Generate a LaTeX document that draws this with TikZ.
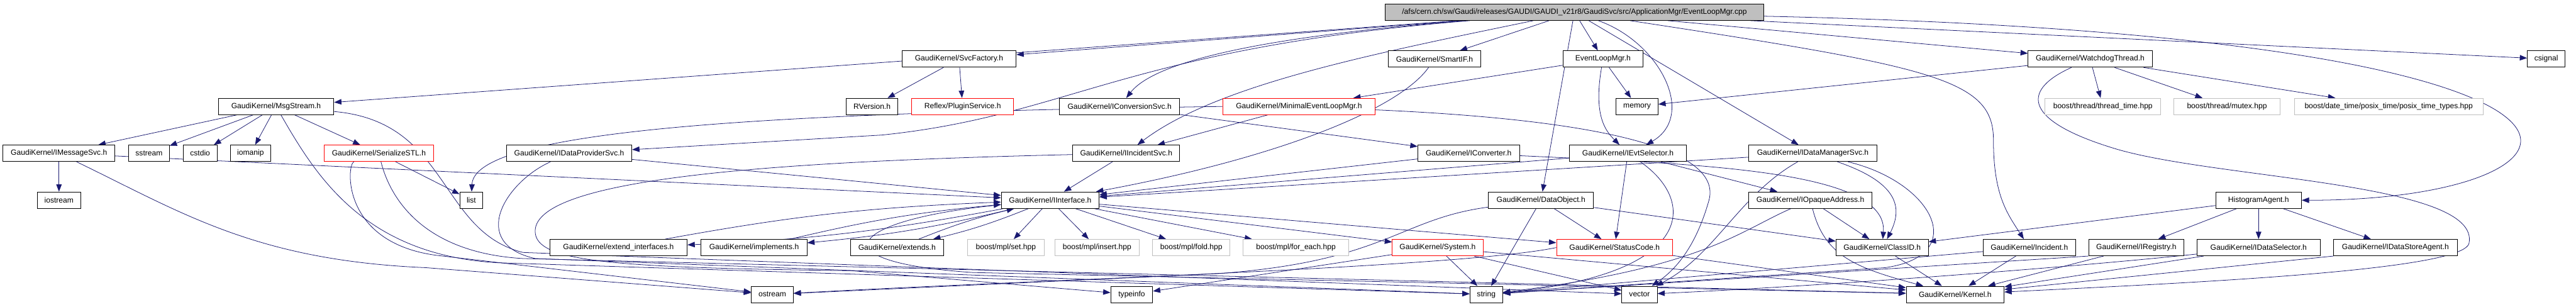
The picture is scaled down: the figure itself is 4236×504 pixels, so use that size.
\documentclass[tikz,border=0pt]{standalone}
\usepackage{fontspec}
\setmainfont{Liberation Sans}
\usetikzlibrary{arrows.meta,backgrounds}
\definecolor{depblue}{HTML}{191970}
\definecolor{sysgray}{HTML}{BFBFBF}

\begin{document}
\begin{tikzpicture}[x=1pt, y=-1pt, >={Triangle[length=12pt,width=9pt]},
  file/.style={draw=black, fill=white, line width=0.9pt, minimum height=27pt, minimum width=#1,
    inner xsep=3pt, inner ysep=0pt, font=\fontsize{12.5}{14}\selectfont},
  file/.default=40,
  redfile/.style={file=#1, draw=red},
  sysfile/.style={file=#1, draw=sysgray},
  mainfile/.style={file=#1, fill=sysgray},
  dep/.style={->, draw=depblue, line width=0.8pt}]
\useasboundingbox (0,0) rectangle (4236,504);

\node[mainfile=623] (root) at (2589,20) {/afs/cern.ch/sw/Gaudi/releases/GAUDI/GAUDI\_v21r8/GaudiSvc/src/ApplicationMgr/EventLoopMgr.cpp};

\node[file=188] (svcfactory) at (1577,97) {GaudiKernel/SvcFactory.h};
\node[file=152] (smartif) at (2359,97) {GaudiKernel/SmartIF.h};
\node[file=132] (evtloopmgr) at (2636,97) {EventLoopMgr.h};
\node[file=204] (watchdog) at (3437,97) {GaudiKernel/WatchdogThread.h};
\node[file=62] (csignal) at (4187,97) {csignal};

\node[file=190] (msgstream) at (454,175) {GaudiKernel/MsgStream.h};
\node[file=85] (rversion) at (1434,175) {RVersion.h};
\node[redfile=168] (pluginsvc) at (1583,175) {Reflex/PluginService.h};
\node[file=197] (iconvsvc) at (1841,175) {GaudiKernel/IConversionSvc.h};
\node[redfile=251] (minimal) at (2136,175) {GaudiKernel/MinimalEventLoopMgr.h};
\node[file=69] (memory) at (2692,175) {memory};
\node[sysfile=190] (threadtime) at (3458,175) {boost/thread/thread\_time.hpp};
\node[sysfile=175] (mutex) at (3662,175) {boost/thread/mutex.hpp};
\node[sysfile=310] (posixtime) at (3928,175) {boost/date\_time/posix\_time/posix\_time\_types.hpp};

\node[file=184] (imsgsvc) at (97,252) {GaudiKernel/IMessageSvc.h};
\node[file=67] (sstream) at (245,252) {sstream};
\node[file=56] (cstdio) at (329,252) {cstdio};
\node[file=66] (iomanip) at (412,252) {iomanip};
\node[redfile=180] (serialize) at (623,252) {GaudiKernel/SerializeSTL.h};
\node[file=206] (idataprov) at (936,252) {GaudiKernel/IDataProviderSvc.h};
\node[file=176] (iincident) at (1852,252) {GaudiKernel/IIncidentSvc.h};
\node[file=167] (iconverter) at (2415,252) {GaudiKernel/IConverter.h};
\node[file=192] (ievtsel) at (2677,252) {GaudiKernel/IEvtSelector.h};
\node[file=211] (idatamgr) at (2981,252) {GaudiKernel/IDataManagerSvc.h};

\node[file=72] (iostream) at (97,329) {iostream};
\node[file=38] (list) at (775,329) {list};
\node[file=161] (iinterface) at (1727,329) {GaudiKernel/IInterface.h};
\node[file=173] (dataobject) at (2534,329) {GaudiKernel/DataObject.h};
\node[file=203] (iopaque) at (2977,329) {GaudiKernel/IOpaqueAddress.h};
\node[file=141] (histagent) at (3714,329) {HistogramAgent.h};

\node[file=226] (extendif) at (1017,407) {GaudiKernel/extend\_interfaces.h};
\node[file=174] (implements) at (1240,407) {GaudiKernel/implements.h};
\node[file=153] (extends) at (1475,407) {GaudiKernel/extends.h};
\node[sysfile=127] (mplset) at (1654,407) {boost/mpl/set.hpp};
\node[sysfile=138] (mplinsert) at (1804,407) {boost/mpl/insert.hpp};
\node[sysfile=127] (mplfold) at (1959,407) {boost/mpl/fold.hpp};
\node[sysfile=174] (mplforeach) at (2131,407) {boost/mpl/for\_each.hpp};
\node[redfile=149] (system) at (2364,407) {GaudiKernel/System.h};
\node[redfile=191] (statuscode) at (2655,407) {GaudiKernel/StatusCode.h};
\node[file=152] (classid) at (3095,407) {GaudiKernel/ClassID.h};
\node[file=152] (incident) at (3337,407) {GaudiKernel/Incident.h};
\node[file=157] (iregistry) at (3513,407) {GaudiKernel/IRegistry.h};
\node[file=202] (idatasel) at (3714,407) {GaudiKernel/IDataSelector.h};
\node[file=203] (idatastore) at (3939,407) {GaudiKernel/IDataStoreAgent.h};

\node[file=69] (ostream) at (1270,484) {ostream};
\node[file=69] (typeinfo) at (1861,484) {typeinfo};
\node[file=54] (string) at (2444,484) {string};
\node[file=58] (vector) at (2696,484) {vector};
\node[file=161] (kernel) at (3215,484) {GaudiKernel/Kernel.h};

\begin{scope}[on background layer]
\draw[dep] (root) -- (msgstream);
\draw[dep] (root) -- (svcfactory);
\draw[dep] (root) .. controls (2080,60) and (1900,100) .. (iconvsvc);
\draw[dep] (root) .. controls (1850,80) and (1760,190) .. (1450,222) -- (idataprov);
\draw[dep] (root) .. controls (2250,90) and (2000,140) .. (iincident);
\draw[dep] (root) -- (smartif);
\draw[dep] (root) -- (evtloopmgr);
\draw[dep] (root) -- (dataobject);
\draw[dep] (root) .. controls (2730,70) and (2790,190) .. ([xshift=30]ievtsel.north);
\draw[dep] (root) -- (idatamgr);
\draw[dep] (root) -- (watchdog);
\draw[dep] (root) .. controls (3180,110) and (3278,130) .. (3278,230) .. controls (3278,320) and (3300,350) .. (incident);
\draw[dep] (root) .. controls (4450,60) and (4300,330) .. (histagent);
\draw[dep] (root) -- (csignal);

\draw[dep] (svcfactory) -- (rversion);
\draw[dep] (svcfactory) -- (pluginsvc);
\draw[dep] (evtloopmgr) -- (minimal);
\draw[dep] (evtloopmgr) -- (memory);
\draw[dep] (evtloopmgr) .. controls (2620,190) and (2640,215) .. (ievtsel);
\draw[dep] (watchdog) -- (memory);
\draw[dep] (watchdog) -- (threadtime);
\draw[dep] (watchdog) -- (mutex);
\draw[dep] (watchdog) -- (posixtime);
\draw[dep] (watchdog) .. controls (3320,150) and (3330,200) .. (3480,245) .. controls (3650,295) and (4080,300) .. (4060,400) .. controls (4050,445) and (3600,465) .. (kernel);
\draw[dep] (smartif) .. controls (2300,180) and (2100,260) .. (iinterface);

\draw[dep] (msgstream) -- (imsgsvc);
\draw[dep] (msgstream) -- (sstream);
\draw[dep] (msgstream) -- (cstdio);
\draw[dep] (msgstream) -- (iomanip);
\draw[dep] (msgstream) -- (serialize);
\draw[dep] (msgstream) .. controls (520,290) and (600,420) .. (820,432) -- (string);
\draw[dep] (msgstream) .. controls (740,200) and (720,380) .. (860,415) -- (vector);
\draw[dep] (minimal) -- (iincident);
\draw[dep] (minimal.west) .. controls (1300,185) and (780,210) .. (list);
\draw[dep] (minimal) .. controls (2700,200) and (2830,260) .. (2810,330) .. controls (2790,400) and (2760,440) .. (vector);
\draw[dep] (iconvsvc) -- (iconverter);

\draw[dep] (imsgsvc) -- (iostream);
\draw[dep] (imsgsvc) -- (iinterface);
\draw[dep] (imsgsvc) .. controls (300,350) and (420,428) .. (700,440) -- (ostream);
\draw[dep] (serialize) -- (list);
\draw[dep] (serialize) .. controls (570,270) and (560,400) .. (720,420) -- (ostream);
\draw[dep] (serialize) .. controls (640,320) and (690,415) .. (860,425) -- (kernel);
\draw[dep] (idataprov) -- (iinterface);
\draw[dep] (idataprov) .. controls (830,300) and (770,400) .. (880,425) -- (string);
\draw[dep] (iincident) -- (iinterface);
\draw[dep] (iincident) .. controls (1300,265) and (880,290) .. (880,380) .. controls (880,430) and (1000,440) .. (1400,445) -- (typeinfo);
\draw[dep] (iconverter) -- (iinterface);
\draw[dep] (iconverter) .. controls (2800,270) and (3105,280) .. (classid);
\draw[dep] (ievtsel) -- (iinterface);
\draw[dep] (ievtsel) -- (statuscode);
\draw[dep] (ievtsel) -- (iopaque);
\draw[dep] (ievtsel) .. controls (2790,330) and (2790,450) .. (string);
\draw[dep] (idatamgr) -- (iinterface);
\draw[dep] (idatamgr) .. controls (3120,300) and (3130,340) .. ([xshift=8]classid.north);
\draw[dep] (idatamgr) .. controls (2860,320) and (2820,420) .. (vector);
\draw[dep] (idatamgr) .. controls (3180,300) and (3240,420) .. (3100,440) -- (string);

\draw[dep] (dataobject) -- (statuscode);
\draw[dep] (dataobject) -- (string);
\draw[dep] (dataobject) -- (classid);
\draw[dep] (dataobject) .. controls (2300,360) and (2280,430) .. (2000,450) -- (ostream);
\draw[dep] (iopaque) -- (classid);
\draw[dep] (iopaque) .. controls (3000,420) and (3050,440) .. (kernel);
\draw[dep] (iopaque) .. controls (2860,380) and (2800,440) .. (string);
\draw[dep] (histagent) -- (classid);
\draw[dep] (histagent) -- (iregistry);
\draw[dep] (histagent) -- (idatasel);
\draw[dep] (histagent) -- (idatastore);

\draw[dep] (iinterface) to[bend left=4] (extendif);
\draw[dep] (extendif) to[bend left=4] (iinterface);
\draw[dep] (iinterface) to[bend left=4] (implements);
\draw[dep] (implements) to[bend left=4] (iinterface);
\draw[dep] (iinterface) to[bend left=4] (extends);
\draw[dep] (extends) to[bend left=4] (iinterface);
\draw[dep] (iinterface) -- (mplset);
\draw[dep] (iinterface) -- (mplinsert);
\draw[dep] (iinterface) -- (mplfold);
\draw[dep] (iinterface) -- (mplforeach);
\draw[dep] (iinterface) -- (system);
\draw[dep] (iinterface) -- (statuscode);
\draw[dep] (iinterface) .. controls (1400,360) and (1330,430) .. (1600,448) -- (kernel);

\draw[dep] (system) -- (string);
\draw[dep] (system) -- (vector);
\draw[dep] (system) -- (typeinfo);
\draw[dep] (system) -- (kernel);
\draw[dep] (statuscode) -- (kernel);
\draw[dep] (statuscode.west) .. controls (2400,440) and (1700,460) .. (ostream);
\draw[dep] (classid) -- (kernel);
\draw[dep] (incident) -- (kernel);
\draw[dep] (incident) -- (string);
\draw[dep] (iregistry) -- (kernel);
\draw[dep] (iregistry.south west) -- (string);
\draw[dep] (idatasel) -- (kernel);
\draw[dep] (idatasel) .. controls (3400,440) and (3000,470) .. (vector);
\draw[dep] (idatastore.south west) -- (kernel);
\end{scope}
\end{tikzpicture}
\end{document}
